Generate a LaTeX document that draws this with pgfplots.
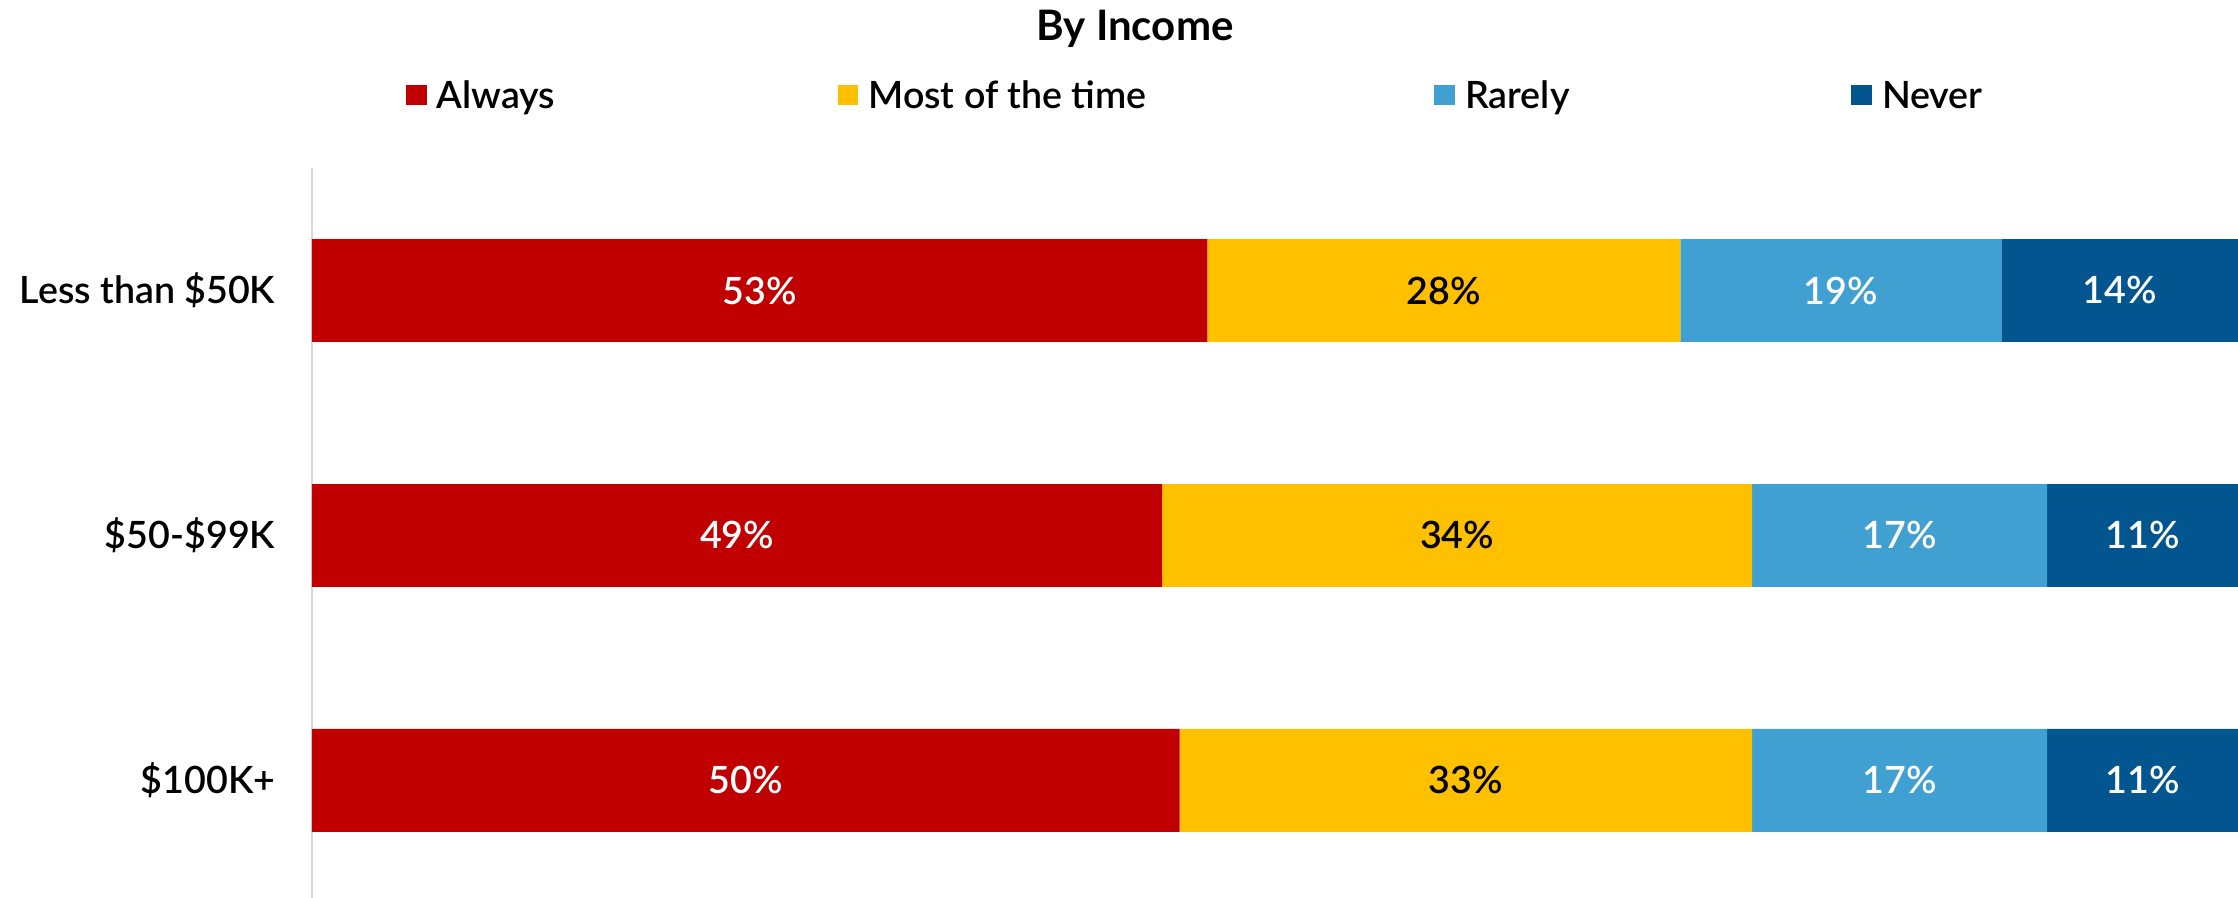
\documentclass[border=0pt]{standalone}
\usepackage{pgfplots}
\pgfplotsset{compat=1.18}
\usepackage{pgfplotstable}
\usepackage{fontspec}
\setmainfont{Lato}
\IfFontExistsTF{Lato Semibold}{\newfontfamily\labfont{Lato Semibold}}{%
  \IfFontExistsTF{Lato Medium}{\newfontfamily\labfont{Lato Medium}}{\newfontfamily\labfont{Lato}[FakeBold=0.4]}}
\definecolor{cAlways}{HTML}{C00000}
\definecolor{cMost}{HTML}{FFC000}
\definecolor{cRarely}{HTML}{41A0D2}
\definecolor{cNever}{HTML}{02558F}
\definecolor{axisgray}{HTML}{D9D9D9}

\pgfplotstableread{
y a m r n
0 53 28 19 14
1 49 34 17 11
2 50 33 17 11
}\data

\newcommand{\tot}{(\thisrow{a}+\thisrow{m}+\thisrow{r}+\thisrow{n})}
\newcommand{\lf}{\labfont\fontsize{9.4}{11}\selectfont}

\begin{document}
\begin{tikzpicture}[font=\lf]
\pgfplotsset{base/.style={
  scale only axis, width=481.5pt, height=182.5pt,
  xmin=0, xmax=100, ymin=-0.5, ymax=2.48, y dir=reverse,
  at={(0,0)}, anchor=south west,
}}
\begin{axis}[base,
  xbar stacked, bar width=0.42,
  axis x line=none, axis y line*=left,
  y axis line style={draw=axisgray, line width=0.5pt, -},
  ytick={0,1,2}, yticklabels={Less than \$50K, \$50-\$99K, \$100K+},
  xtick=\empty,
  major tick length=0pt,
  yticklabel style={anchor=east, inner sep=0pt, xshift=-9pt, font=\lf},
  clip=false,
  legend columns=4,
  legend style={at={(0.0483,1.1)}, anchor=west, draw=none, fill=none, inner sep=0pt,
    font=\lf,
    nodes={inner sep=0pt, text height=6.75pt, text depth=0pt},
    /tikz/every odd column/.append style={column sep=2.5pt},
    /tikz/every even column/.append style={column sep=0pt}},
  legend cell align=left,
  legend image code/.code={\fill[#1] (0pt,-2.6pt) rectangle (5.2pt,2.6pt);},
]
\addplot[fill=cAlways, draw=none] table[y=y, x expr={\thisrow{a}/\tot*100}]{\data};
\addplot[fill=cMost, draw=none] table[y=y, x expr={\thisrow{m}/\tot*100}]{\data};
\addplot[fill=cRarely, draw=none] table[y=y, x expr={\thisrow{r}/\tot*100}]{\data};
\addplot[fill=cNever, draw=none] table[y=y, x expr={\thisrow{n}/\tot*100}]{\data};
\legend{\makebox[100.25pt][l]{Always}, \makebox[141.5pt][l]{Most of the time}, \makebox[96.5pt][l]{Rarely}, Never}
\node[anchor=base, inner sep=0pt, font=\fontsize{10.5}{12}\selectfont\bfseries] at (axis description cs:0.4273,1.1753) {By Income};
\end{axis}
\begin{axis}[base, hide axis,
  point meta=explicit symbolic,
  nodes near coords={\pgfplotspointmeta\%},
  every node near coord/.append style={anchor=center, inner sep=0pt, font=\lf},
]
\addplot[draw=none, mark=none, nodes near coords style={text=white}] table[y=y, x expr={(\thisrow{a}/2)/\tot*100}, meta=a]{\data};
\addplot[draw=none, mark=none, nodes near coords style={text=black}] table[y=y, x expr={(\thisrow{a}+\thisrow{m}/2)/\tot*100}, meta=m]{\data};
\addplot[draw=none, mark=none, nodes near coords style={text=white}] table[y=y, x expr={(\thisrow{a}+\thisrow{m}+\thisrow{r}/2)/\tot*100}, meta=r]{\data};
\addplot[draw=none, mark=none, nodes near coords style={text=white}] table[y=y, x expr={(\thisrow{a}+\thisrow{m}+\thisrow{r}+\thisrow{n}/2)/\tot*100}, meta=n]{\data};
\end{axis}
\pgfresetboundingbox
\path (-78pt,0pt) rectangle (481.5pt,224.5pt);
\end{tikzpicture}
\end{document}
